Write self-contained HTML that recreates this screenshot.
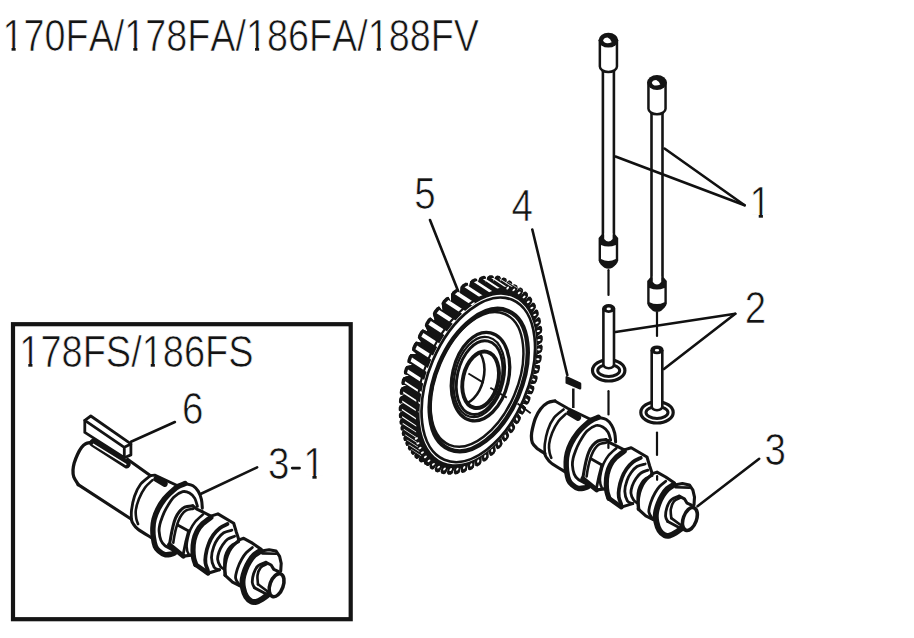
<!DOCTYPE html>
<html><head><meta charset="utf-8"><title>Camshaft parts diagram</title>
<style>
html,body{margin:0;padding:0;background:#fff;}
body{width:914px;height:638px;overflow:hidden;font-family:"Liberation Sans",sans-serif;}
svg{display:block}
</style></head><body>
<svg width="914" height="638" viewBox="0 0 914 638">
<rect width="914" height="638" fill="#fff"/>
<text transform="translate(2.6,50.6) scale(0.868,1)" font-size="43.5" font-family="Liberation Sans, sans-serif" fill="#141414" stroke="#fff" stroke-width="0.7" style="font-kerning:none">170FA/178FA/186FA/188FV</text>
<rect x="4.11" y="46.90" width="7.44" height="4.6" fill="#fff"/>
<rect x="15.66" y="46.90" width="7.55" height="4.6" fill="#fff"/>
<rect x="125.84" y="46.90" width="7.44" height="4.6" fill="#fff"/>
<rect x="137.40" y="46.90" width="7.55" height="4.6" fill="#fff"/>
<rect x="247.57" y="46.90" width="7.44" height="4.6" fill="#fff"/>
<rect x="259.13" y="46.90" width="7.55" height="4.6" fill="#fff"/>
<rect x="369.31" y="46.90" width="7.44" height="4.6" fill="#fff"/>
<rect x="380.86" y="46.90" width="7.55" height="4.6" fill="#fff"/>
<text transform="translate(19.3,366.8) scale(0.873,1)" font-size="43.5" font-family="Liberation Sans, sans-serif" fill="#141414" stroke="#fff" stroke-width="0.7" style="font-kerning:none">178FS/186FS</text>
<rect x="20.82" y="363.10" width="7.48" height="4.6" fill="#fff"/>
<rect x="32.44" y="363.10" width="7.60" height="4.6" fill="#fff"/>
<rect x="143.25" y="363.10" width="7.48" height="4.6" fill="#fff"/>
<rect x="154.87" y="363.10" width="7.60" height="4.6" fill="#fff"/>
<text transform="translate(749.6,218.2) scale(0.885,1)" font-size="43.5" font-family="Liberation Sans, sans-serif" fill="#141414" stroke="#fff" stroke-width="0.7" style="font-kerning:none">1</text>
<rect x="751.14" y="214.50" width="7.58" height="4.6" fill="#fff"/>
<rect x="762.92" y="214.50" width="7.70" height="4.6" fill="#fff"/>
<text transform="translate(744.7,323.0) scale(0.885,1)" font-size="43.5" font-family="Liberation Sans, sans-serif" fill="#141414" stroke="#fff" stroke-width="0.7" style="font-kerning:none">2</text>
<text transform="translate(764.4,465.0) scale(0.885,1)" font-size="43.5" font-family="Liberation Sans, sans-serif" fill="#141414" stroke="#fff" stroke-width="0.7" style="font-kerning:none">3</text>
<text transform="translate(511.6,221.3) scale(0.885,1)" font-size="43.5" font-family="Liberation Sans, sans-serif" fill="#141414" stroke="#fff" stroke-width="0.7" style="font-kerning:none">4</text>
<text transform="translate(414.2,208.6) scale(0.885,1)" font-size="43.5" font-family="Liberation Sans, sans-serif" fill="#141414" stroke="#fff" stroke-width="0.7" style="font-kerning:none">5</text>
<text transform="translate(181.9,423.9) scale(0.885,1)" font-size="43.5" font-family="Liberation Sans, sans-serif" fill="#141414" stroke="#fff" stroke-width="0.7" style="font-kerning:none">6</text>
<text transform="translate(267.9,478.5) scale(0.885,1)" font-size="43.5" font-family="Liberation Sans, sans-serif" fill="#141414" stroke="#fff" stroke-width="0.7" style="font-kerning:none">3</text>
<text transform="translate(303.3,478.8) scale(0.885,1)" font-size="43.5" font-family="Liberation Sans, sans-serif" fill="#141414" stroke="#fff" stroke-width="0.7" style="font-kerning:none">1</text>
<rect x="304.84" y="475.10" width="7.58" height="4.6" fill="#fff"/>
<rect x="316.62" y="475.10" width="7.70" height="4.6" fill="#fff"/>
<line x1="292.2" y1="468.1" x2="299.6" y2="468.1" stroke="#111" stroke-width="2.6" stroke-linecap="round" stroke-linecap="butt"/>
<line x1="744.6" y1="205.2" x2="615.5" y2="156.5" stroke="#111" stroke-width="2.6" stroke-linecap="round" />
<line x1="744.6" y1="205.2" x2="664.5" y2="148.5" stroke="#111" stroke-width="2.6" stroke-linecap="round" />
<line x1="735.3" y1="313.8" x2="615.5" y2="332.0" stroke="#111" stroke-width="2.6" stroke-linecap="round" />
<line x1="735.3" y1="313.8" x2="664.0" y2="369.0" stroke="#111" stroke-width="2.6" stroke-linecap="round" />
<line x1="759.2" y1="458.8" x2="697.5" y2="506.2" stroke="#111" stroke-width="2.6" stroke-linecap="round" />
<line x1="532.3" y1="229.5" x2="567.3" y2="375.0" stroke="#111" stroke-width="2.6" stroke-linecap="round" />
<line x1="430.0" y1="220.0" x2="458.3" y2="291.6" stroke="#111" stroke-width="2.6" stroke-linecap="round" />
<line x1="174.9" y1="422.0" x2="131.0" y2="441.7" stroke="#111" stroke-width="2.6" stroke-linecap="round" />
<rect x="13" y="324.2" width="337.7" height="295" fill="none" stroke="#141414" stroke-width="4.2"/>
<path d="M602.9,68.9 V240.4 M613.9,68.9 V240.4" stroke="#141414" stroke-width="2.6" fill="none"/>
<path d="M599.85,40.199999999999996 V66.4 A8.55,5.6 0 0 0 616.9499999999999,66.4 V40.199999999999996 Z" fill="#fff" stroke="#141414" stroke-width="2.5" stroke-linejoin="round"/>
<ellipse cx="608.4" cy="40.199999999999996" rx="9.8" ry="7.4" fill="#141414"/>
<path d="M603.1999999999999,40.49999999999999 Q603.8,37.8 607.6,37.599999999999994 Q610.6,38.599999999999994 611.6999999999999,42.199999999999996 Q608.9,43.599999999999994 605.8,43.099999999999994 Q603.4,42.4 603.1999999999999,40.49999999999999 Z" fill="#fff"/>
<path d="M601.6,234.4 L598.6,237.9 V260.4 Q599.6,264.4 604.4,267.7 Q608.4,269.6 612.4,267.7 Q617.1999999999999,264.4 618.1999999999999,260.4 V237.9 L615.1999999999999,234.4 Z" fill="#141414"/>
<path d="M601.0,244.9 Q608.4,247.9 615.8,244.9 V259.0 Q608.4,262.8 601.0,259.0 Z" fill="#fff"/>
<path d="M604.1999999999999,233.4 V238.9 Q608.4,243.9 612.6,238.9 V233.4 Z" fill="#fff"/>
<path d="M651.5,111.2 V283.6 M662.5,111.2 V283.6" stroke="#141414" stroke-width="2.6" fill="none"/>
<path d="M648.45,82.5 V108.7 A8.55,5.6 0 0 0 665.55,108.7 V82.5 Z" fill="#fff" stroke="#141414" stroke-width="2.5" stroke-linejoin="round"/>
<ellipse cx="657.0" cy="82.5" rx="9.8" ry="7.4" fill="#141414"/>
<path d="M651.8,82.8 Q652.4,80.1 656.2,79.9 Q659.2,80.9 660.3,84.5 Q657.5,85.9 654.4,85.4 Q652.0,84.7 651.8,82.8 Z" fill="#fff"/>
<path d="M650.2,277.6 L647.2,281.1 V303.6 Q648.2,307.6 653.0,310.90000000000003 Q657.0,312.8 661.0,310.90000000000003 Q665.8,307.6 666.8,303.6 V281.1 L663.8,277.6 Z" fill="#141414"/>
<path d="M649.6,288.1 Q657.0,291.1 664.4,288.1 V302.20000000000005 Q657.0,306.0 649.6,302.20000000000005 Z" fill="#fff"/>
<path d="M652.8,276.6 V282.1 Q657.0,287.1 661.2,282.1 V276.6 Z" fill="#fff"/>
<line x1="608.5" y1="270.2" x2="608.5" y2="295.0" stroke="#111" stroke-width="2.2" stroke-linecap="round" stroke-linecap="butt"/>
<line x1="608.5" y1="391.2" x2="608.5" y2="414.5" stroke="#111" stroke-width="2.2" stroke-linecap="round" stroke-linecap="butt"/>
<line x1="657.0" y1="312.2" x2="657.0" y2="336.0" stroke="#111" stroke-width="2.2" stroke-linecap="round" stroke-linecap="butt"/>
<line x1="657.0" y1="432.6" x2="657.0" y2="455.0" stroke="#111" stroke-width="2.2" stroke-linecap="round" stroke-linecap="butt"/>
<ellipse cx="608.7" cy="370.4" rx="16.2" ry="10.6" fill="#fff" stroke="#141414" stroke-width="3.2"/>
<ellipse cx="608.7" cy="370.5" rx="11.0" ry="5.9" fill="#fff" stroke="#141414" stroke-width="3.0"/>
<path d="M603.4000000000001,308.5 V364.5 Q603.7,367.8 608.7,368.2 Q613.7,367.8 614.0,364.5 V308.5" fill="#fff" stroke="#141414" stroke-width="2.6" stroke-linejoin="round"/>
<ellipse cx="608.7" cy="308.5" rx="5.4" ry="3.2" fill="#141414" stroke="#141414" stroke-width="2.4"/>
<ellipse cx="608.7" cy="308.9" rx="2.2" ry="1.3" fill="#fff"/>
<ellipse cx="657.0" cy="412.4" rx="16.2" ry="10.6" fill="#fff" stroke="#141414" stroke-width="3.2"/>
<ellipse cx="657.0" cy="412.5" rx="11.0" ry="5.9" fill="#fff" stroke="#141414" stroke-width="3.0"/>
<path d="M651.7,349.9 V406.5 Q652.0,409.8 657.0,410.2 Q662.0,409.8 662.3,406.5 V349.9" fill="#fff" stroke="#141414" stroke-width="2.6" stroke-linejoin="round"/>
<ellipse cx="657.0" cy="349.9" rx="5.4" ry="3.2" fill="#141414" stroke="#141414" stroke-width="2.4"/>
<ellipse cx="657.0" cy="350.29999999999995" rx="2.2" ry="1.3" fill="#fff"/>
<polygon points="514.7,387.7 518.5,390.4 518.7,392.1 517.3,395.5 515.9,396.5 511.3,395.6 510.6,397.1 514.0,400.6 514.1,402.4 512.5,405.6 511.1,406.5 506.8,404.7 506.0,406.2 509.0,410.4 508.9,412.3 507.1,415.4 505.6,416.0 501.7,413.4 500.9,414.8 503.3,419.7 503.1,421.7 501.1,424.6 499.7,425.0 496.2,421.6 495.3,422.9 497.2,428.4 496.8,430.5 494.7,433.1 493.3,433.3 490.3,429.2 489.3,430.3 490.7,436.5 490.1,438.5 487.9,440.9 486.6,440.9 484.1,436.0 483.1,437.0 483.8,443.6 483.1,445.7 480.8,447.8 479.6,447.5 477.7,442.0 476.6,442.9 476.8,449.9 475.9,451.9 473.6,453.7 472.4,453.2 471.1,447.1 470.0,447.9 469.5,455.2 468.6,457.2 466.2,458.6 465.2,457.9 464.4,451.3 463.3,451.9 462.3,459.5 461.2,461.3 458.8,462.4 457.9,461.5 457.7,454.5 456.7,454.9 455.0,462.6 453.9,464.3 451.5,465.1 450.8,463.9 451.2,456.6 450.1,456.9 447.9,464.6 446.7,466.2 444.4,466.5 443.8,465.2 444.8,457.7 443.8,457.7 441.0,465.4 439.7,466.8 437.6,466.8 437.1,465.3 438.6,457.6 437.7,457.5 434.5,465.0 433.1,466.3 431.1,465.9 430.7,464.2 432.8,456.5 431.9,456.2 428.3,463.5 426.9,464.6 425.0,463.8 424.8,462.0 427.5,454.3 426.7,453.9 422.7,460.8 421.3,461.8 419.7,460.7 419.7,458.9 422.9,451.4 422.2,450.8 417.9,457.4 416.6,458.2 415.2,456.9 415.4,455.1 419.1,447.9 418.5,447.3 413.9,453.5 412.7,454.1 411.6,452.8 411.9,450.9 415.9,444.0 415.5,443.3 410.7,449.2 409.5,449.7 408.6,448.3 409.0,446.5 413.3,439.9 413.0,439.2 408.0,444.6 406.8,445.1 406.1,443.5 406.7,441.8 411.2,435.5 410.9,434.8 405.9,439.9 404.7,440.2 404.1,438.6 404.8,436.9 409.5,431.0 409.2,430.3 404.1,434.9 402.9,435.1 402.5,433.4 403.2,431.7 408.1,426.2 407.9,425.4 402.7,429.5 401.5,429.6 401.2,427.8 402.0,426.2 407.0,421.1 406.9,420.2 401.6,423.8 400.5,423.7 400.2,421.7 401.1,420.1 406.2,415.4 406.1,414.5 400.8,417.5 399.8,417.3 399.6,415.0 400.6,413.4 405.8,409.2 405.8,408.1 400.5,410.5 399.5,410.0 399.5,407.6 400.5,405.9 405.8,402.2 405.8,401.0 400.6,402.7 399.7,402.0 399.9,399.2 400.9,397.5 406.3,394.4 406.4,393.1 401.3,393.9 400.5,392.9 400.9,389.8 402.1,388.2 407.4,385.7 407.7,384.3 402.8,384.2 402.1,382.9 402.8,379.5 404.1,377.9 409.3,376.2 409.7,374.6 405.1,373.5 404.6,372.0 405.7,368.3 407.0,366.7 412.2,365.8 412.7,364.1 408.5,362.0 408.2,360.2 409.6,356.3 411.1,354.8 416.0,354.9 416.8,353.1 413.1,350.0 413.0,347.9 414.8,343.9 416.4,342.6 421.0,343.6 421.9,341.7 418.8,337.6 419.0,335.4 421.2,331.4 422.9,330.3 427.1,332.3 428.1,330.5 425.8,325.5 426.2,323.1 428.7,319.3 430.4,318.5 434.1,321.5 435.4,319.8 433.7,313.9 434.4,311.5 437.3,308.0 438.9,307.5 442.0,311.6 443.4,310.1 442.5,303.5 443.5,301.1 446.5,298.1 448.1,297.9 450.5,302.9 451.9,301.7 451.9,294.5 453.0,292.2 456.1,289.8 457.6,290.0 459.3,295.8 460.7,294.9 461.4,287.3 462.7,285.2 465.8,283.4 467.1,284.0 468.0,290.5 469.4,289.9 470.9,282.1 472.3,280.2 475.2,279.0 476.3,279.9 476.4,287.0 477.7,286.6 479.9,278.9 481.3,277.2 484.1,276.6 485.0,277.8 484.3,285.3 485.5,285.2 488.2,277.5 489.7,276.0 492.2,276.0 492.8,277.4 491.4,285.1 492.5,285.2 495.7,277.7 497.2,276.4 499.4,276.9 499.8,278.5 497.7,286.3 498.6,286.6 502.3,279.3 503.7,278.2 505.6,279.0 505.8,280.8 503.2,288.5 504.0,288.9 508.1,282.0 509.5,281.1 511.2,282.3 511.2,284.2 508.1,291.7 508.8,292.3 513.2,285.8 514.7,285.2 516.2,286.7 516.1,288.7 512.4,295.9 513.1,296.7 517.8,290.7 519.2,290.3 520.5,292.2 520.3,294.2 516.2,301.1 516.8,302.0 521.8,296.7 523.1,296.4 524.2,298.6 523.8,300.7 519.4,307.2 519.8,308.2 525.0,303.5 526.3,303.5 527.1,306.0 526.5,308.0 521.8,314.1 522.2,315.2 527.4,311.2 528.7,311.5 529.3,314.2 528.5,316.2 523.6,321.7 523.8,322.9 529.1,319.7 530.3,320.2 530.6,323.1 529.7,325.1 524.6,329.9 524.7,331.2 530.0,328.8 531.0,329.5 531.1,332.6 530.1,334.5 524.9,338.6 524.8,340.1 530.1,338.5 531.0,339.4 530.8,342.6 529.7,344.5 524.4,347.8 524.2,349.3 529.3,348.5 530.1,349.6 529.7,353.0 528.5,354.7 523.2,357.2 522.9,358.8 527.8,358.9 528.4,360.2 527.7,363.6 526.5,365.2 521.2,366.8 520.8,368.4 525.4,369.4 526.0,370.9 525.0,374.3 523.7,375.7 518.6,376.5 518.1,378.1 522.3,379.9 522.7,381.6 521.5,385.0 520.1,386.2 515.3,386.2" fill="#141414" stroke="#141414" stroke-width="1.6" stroke-linejoin="round"/>
<polygon points="514.7,387.7 518.8,390.5 516.2,396.6 511.3,395.6 522.2,402.7 527.1,403.7 529.7,397.6 525.6,394.8" fill="#141414" stroke="#141414" stroke-width="1.6" stroke-linejoin="round"/>
<polygon points="510.6,397.1 514.3,400.7 511.3,406.7 506.8,404.7 517.7,411.8 522.2,413.8 525.2,407.8 521.5,404.2" fill="#141414" stroke="#141414" stroke-width="1.6" stroke-linejoin="round"/>
<polygon points="506.0,406.2 509.2,410.6 505.8,416.3 501.7,413.4 512.6,420.5 516.7,423.4 520.1,417.7 516.9,413.3" fill="#141414" stroke="#141414" stroke-width="1.6" stroke-linejoin="round"/>
<polygon points="500.9,414.8 503.5,420.0 499.9,425.3 496.2,421.6 507.1,428.7 510.8,432.4 514.4,427.1 511.8,421.9" fill="#141414" stroke="#141414" stroke-width="1.6" stroke-linejoin="round"/>
<polygon points="495.3,422.9 497.4,428.7 493.5,433.7 490.3,429.2 501.2,436.3 504.4,440.8 508.3,435.8 506.2,430.0" fill="#141414" stroke="#141414" stroke-width="1.6" stroke-linejoin="round"/>
<polygon points="489.3,430.3 490.8,436.8 486.7,441.2 484.1,436.0 495.0,443.1 497.6,448.3 501.7,443.9 500.2,437.4" fill="#141414" stroke="#141414" stroke-width="1.6" stroke-linejoin="round"/>
<polygon points="483.1,437.0 483.9,444.0 479.7,447.9 477.7,442.0 488.6,449.1 490.6,455.0 494.8,451.1 494.0,444.1" fill="#141414" stroke="#141414" stroke-width="1.6" stroke-linejoin="round"/>
<polygon points="476.6,442.9 476.8,450.3 472.5,453.6 471.1,447.1 482.0,454.2 483.4,460.7 487.7,457.4 487.5,450.0" fill="#141414" stroke="#141414" stroke-width="1.6" stroke-linejoin="round"/>
<polygon points="470.0,447.9 469.6,455.6 465.2,458.3 464.4,451.3 475.3,458.4 476.1,465.4 480.5,462.7 480.9,455.0" fill="#141414" stroke="#141414" stroke-width="1.6" stroke-linejoin="round"/>
<polygon points="463.3,451.9 462.3,459.9 457.9,461.9 457.7,454.5 468.6,461.6 468.8,469.0 473.2,467.0 474.2,459.0" fill="#141414" stroke="#141414" stroke-width="1.6" stroke-linejoin="round"/>
<polygon points="456.7,454.9 455.0,463.1 450.7,464.4 451.2,456.6 462.1,463.7 461.6,471.5 465.9,470.2 467.6,462.0" fill="#141414" stroke="#141414" stroke-width="1.6" stroke-linejoin="round"/>
<polygon points="450.1,456.9 447.8,465.1 443.7,465.7 444.8,457.7 455.7,464.8 454.6,472.8 458.7,472.2 461.0,464.0" fill="#141414" stroke="#141414" stroke-width="1.6" stroke-linejoin="round"/>
<polygon points="443.8,457.7 440.9,465.9 436.9,465.8 438.6,457.6 449.5,464.7 447.8,472.9 451.8,473.0 454.7,464.8" fill="#141414" stroke="#141414" stroke-width="1.6" stroke-linejoin="round"/>
<polygon points="437.7,457.5 434.3,465.5 430.5,464.7 432.8,456.5 443.7,463.6 441.4,471.8 445.2,472.6 448.6,464.6" fill="#141414" stroke="#141414" stroke-width="1.6" stroke-linejoin="round"/>
<polygon points="431.9,456.2 428.1,464.0 424.6,462.5 427.5,454.3 438.4,461.4 435.5,469.6 439.0,471.1 442.8,463.3" fill="#141414" stroke="#141414" stroke-width="1.6" stroke-linejoin="round"/>
<polygon points="426.7,453.9 422.4,461.3 419.5,459.3 422.9,451.4 433.8,458.5 430.4,466.4 433.3,468.4 437.6,461.0" fill="#141414" stroke="#141414" stroke-width="1.6" stroke-linejoin="round"/>
<polygon points="422.2,450.8 417.7,457.9 415.2,455.5 419.1,447.9 430.0,455.0 426.1,462.6 428.6,465.0 433.1,457.9" fill="#141414" stroke="#141414" stroke-width="1.6" stroke-linejoin="round"/>
<polygon points="418.5,447.3 413.7,453.9 411.6,451.3 415.9,444.0 426.8,451.1 422.5,458.4 424.6,461.0 429.4,454.4" fill="#141414" stroke="#141414" stroke-width="1.6" stroke-linejoin="round"/>
<polygon points="415.5,443.3 410.4,449.6 408.7,446.9 413.3,439.9 424.2,447.0 419.6,454.0 421.3,456.7 426.4,450.4" fill="#141414" stroke="#141414" stroke-width="1.6" stroke-linejoin="round"/>
<polygon points="413.0,439.2 407.7,445.0 406.4,442.1 411.2,435.5 422.1,442.6 417.3,449.2 418.6,452.1 423.9,446.3" fill="#141414" stroke="#141414" stroke-width="1.6" stroke-linejoin="round"/>
<polygon points="410.9,434.8 405.6,440.2 404.4,437.2 409.5,431.0 420.4,438.1 415.3,444.3 416.5,447.3 421.8,441.9" fill="#141414" stroke="#141414" stroke-width="1.6" stroke-linejoin="round"/>
<polygon points="409.2,430.3 403.8,435.2 402.9,432.0 408.1,426.2 419.0,433.3 413.8,439.1 414.7,442.3 420.1,437.4" fill="#141414" stroke="#141414" stroke-width="1.6" stroke-linejoin="round"/>
<polygon points="407.9,425.4 402.4,429.8 401.7,426.4 407.0,421.1 417.9,428.2 412.6,433.5 413.3,436.9 418.8,432.5" fill="#141414" stroke="#141414" stroke-width="1.6" stroke-linejoin="round"/>
<polygon points="406.9,420.2 401.3,424.1 400.8,420.3 406.2,415.4 417.1,422.5 411.7,427.4 412.2,431.2 417.8,427.3" fill="#141414" stroke="#141414" stroke-width="1.6" stroke-linejoin="round"/>
<polygon points="406.1,414.5 400.5,417.7 400.2,413.6 405.8,409.2 416.7,416.3 411.1,420.7 411.4,424.8 417.0,421.6" fill="#141414" stroke="#141414" stroke-width="1.6" stroke-linejoin="round"/>
<polygon points="405.8,408.1 400.2,410.7 400.2,406.1 405.8,402.2 416.7,409.3 411.1,413.2 411.1,417.8 416.7,415.2" fill="#141414" stroke="#141414" stroke-width="1.6" stroke-linejoin="round"/>
<polygon points="405.8,401.0 400.3,402.8 400.6,397.7 406.3,394.4 417.2,401.5 411.5,404.8 411.2,409.9 416.7,408.1" fill="#141414" stroke="#141414" stroke-width="1.6" stroke-linejoin="round"/>
<polygon points="406.4,393.1 401.0,394.0 401.8,388.3 407.4,385.7 418.3,392.8 412.7,395.4 411.9,401.1 417.3,400.2" fill="#141414" stroke="#141414" stroke-width="1.6" stroke-linejoin="round"/>
<polygon points="407.7,384.3 402.5,384.3 403.8,377.9 409.3,376.2 420.2,383.3 414.7,385.0 413.4,391.4 418.6,391.4" fill="#141414" stroke="#141414" stroke-width="1.6" stroke-linejoin="round"/>
<polygon points="409.7,374.6 404.8,373.5 406.7,366.7 412.2,365.8 423.1,372.9 417.6,373.8 415.7,380.6 420.6,381.7" fill="#141414" stroke="#141414" stroke-width="1.6" stroke-linejoin="round"/>
<polygon points="412.7,364.1 408.2,362.0 410.8,354.8 416.0,354.9 426.9,362.0 421.7,361.9 419.1,369.1 423.6,371.2" fill="#141414" stroke="#141414" stroke-width="1.6" stroke-linejoin="round"/>
<polygon points="416.8,353.1 412.8,349.9 416.1,342.4 421.0,343.6 431.9,350.7 427.0,349.5 423.7,357.0 427.7,360.2" fill="#141414" stroke="#141414" stroke-width="1.6" stroke-linejoin="round"/>
<polygon points="421.9,341.7 418.6,337.5 422.6,330.1 427.1,332.3 438.0,339.4 433.5,337.2 429.5,344.6 432.8,348.8" fill="#141414" stroke="#141414" stroke-width="1.6" stroke-linejoin="round"/>
<polygon points="428.1,330.5 425.6,325.3 430.2,318.2 434.1,321.5 445.0,328.6 441.1,325.3 436.5,332.4 439.0,337.6" fill="#141414" stroke="#141414" stroke-width="1.6" stroke-linejoin="round"/>
<polygon points="435.4,319.8 433.6,313.7 438.8,307.2 442.0,311.6 452.9,318.7 449.7,314.3 444.5,320.8 446.3,326.9" fill="#141414" stroke="#141414" stroke-width="1.6" stroke-linejoin="round"/>
<polygon points="443.4,310.1 442.4,303.1 448.0,297.5 450.5,302.9 461.4,310.0 458.9,304.6 453.3,310.2 454.3,317.2" fill="#141414" stroke="#141414" stroke-width="1.6" stroke-linejoin="round"/>
<polygon points="451.9,301.7 451.8,294.1 457.5,289.6 459.3,295.8 470.2,302.9 468.4,296.7 462.7,301.2 462.8,308.8" fill="#141414" stroke="#141414" stroke-width="1.6" stroke-linejoin="round"/>
<polygon points="460.7,294.9 461.4,286.9 467.1,283.5 468.0,290.5 478.9,297.6 478.0,290.6 472.3,294.0 471.6,302.0" fill="#141414" stroke="#141414" stroke-width="1.6" stroke-linejoin="round"/>
<polygon points="469.4,289.9 470.9,281.7 476.4,279.5 476.4,287.0 487.3,294.1 487.3,286.6 481.8,288.8 480.3,297.0" fill="#141414" stroke="#141414" stroke-width="1.6" stroke-linejoin="round"/>
<polygon points="477.7,286.6 479.9,278.4 485.1,277.3 484.3,285.3 495.2,292.4 496.0,284.4 490.8,285.5 488.6,293.7" fill="#141414" stroke="#141414" stroke-width="1.6" stroke-linejoin="round"/>
<polygon points="485.5,285.2 488.3,277.0 493.0,277.0 491.4,285.1 502.3,292.2 503.9,284.1 499.2,284.1 496.4,292.3" fill="#141414" stroke="#141414" stroke-width="1.6" stroke-linejoin="round"/>
<polygon points="492.5,285.2 495.9,277.2 500.0,278.1 497.7,286.3 508.6,293.4 510.9,285.2 506.8,284.3 503.4,292.3" fill="#141414" stroke="#141414" stroke-width="1.6" stroke-linejoin="round"/>
<polygon points="498.6,286.6 502.5,278.8 506.0,280.3 503.2,288.5 514.1,295.6 516.9,287.4 513.4,285.9 509.5,293.7" fill="#141414" stroke="#141414" stroke-width="1.6" stroke-linejoin="round"/>
<polygon points="504.0,288.9 508.3,281.6 511.5,283.7 508.1,291.7 519.0,298.8 522.4,290.8 519.2,288.7 514.9,296.0" fill="#141414" stroke="#141414" stroke-width="1.6" stroke-linejoin="round"/>
<polygon points="508.8,292.3 513.5,285.4 516.3,288.2 512.4,295.9 523.3,303.0 527.2,295.3 524.4,292.5 519.7,299.4" fill="#141414" stroke="#141414" stroke-width="1.6" stroke-linejoin="round"/>
<polygon points="513.1,296.7 518.1,290.3 520.5,293.8 516.2,301.1 527.1,308.2 531.4,300.9 529.0,297.4 524.0,303.8" fill="#141414" stroke="#141414" stroke-width="1.6" stroke-linejoin="round"/>
<polygon points="516.8,302.0 522.0,296.3 524.1,300.3 519.4,307.2 530.3,314.3 535.0,307.4 532.9,303.4 527.7,309.1" fill="#141414" stroke="#141414" stroke-width="1.6" stroke-linejoin="round"/>
<polygon points="519.8,308.2 525.3,303.2 526.9,307.7 521.8,314.1 532.7,321.2 537.8,314.8 536.2,310.3 530.7,315.3" fill="#141414" stroke="#141414" stroke-width="1.6" stroke-linejoin="round"/>
<polygon points="522.2,315.2 527.8,310.9 528.9,315.9 523.6,321.7 534.5,328.8 539.8,323.0 538.7,318.0 533.1,322.3" fill="#141414" stroke="#141414" stroke-width="1.6" stroke-linejoin="round"/>
<polygon points="523.8,322.9 529.4,319.4 530.1,324.9 524.6,329.9 535.5,337.0 541.0,332.0 540.3,326.5 534.7,330.0" fill="#141414" stroke="#141414" stroke-width="1.6" stroke-linejoin="round"/>
<polygon points="524.7,331.2 530.3,328.6 530.5,334.4 524.9,338.6 535.8,345.7 541.4,341.5 541.2,335.7 535.6,338.3" fill="#141414" stroke="#141414" stroke-width="1.6" stroke-linejoin="round"/>
<polygon points="524.8,340.1 530.4,338.3 530.0,344.3 524.4,347.8 535.3,354.9 540.9,351.4 541.3,345.4 535.7,347.2" fill="#141414" stroke="#141414" stroke-width="1.6" stroke-linejoin="round"/>
<polygon points="524.2,349.3 529.6,348.4 528.8,354.6 523.2,357.2 534.1,364.3 539.7,361.7 540.5,355.5 535.1,356.4" fill="#141414" stroke="#141414" stroke-width="1.6" stroke-linejoin="round"/>
<polygon points="522.9,358.8 528.1,358.8 526.8,365.2 521.2,366.8 532.1,373.9 537.7,372.3 539.0,365.9 533.8,365.9" fill="#141414" stroke="#141414" stroke-width="1.6" stroke-linejoin="round"/>
<polygon points="520.8,368.4 525.7,369.4 524.0,375.7 518.6,376.5 529.5,383.6 534.9,382.8 536.6,376.5 531.7,375.5" fill="#141414" stroke="#141414" stroke-width="1.6" stroke-linejoin="round"/>
<polygon points="518.1,378.1 522.6,380.0 520.4,386.3 515.3,386.2 526.2,393.3 531.3,393.4 533.5,387.1 529.0,385.2" fill="#141414" stroke="#141414" stroke-width="1.6" stroke-linejoin="round"/>
<polygon points="525.6,394.8 529.4,397.5 529.6,399.2 528.2,402.6 526.8,403.6 522.2,402.7 521.5,404.2 524.9,407.7 525.0,409.5 523.4,412.7 522.0,413.6 517.7,411.8 516.9,413.3 519.9,417.5 519.8,419.4 518.0,422.5 516.5,423.1 512.6,420.5 511.8,421.9 514.2,426.8 514.0,428.8 512.0,431.7 510.6,432.1 507.1,428.7 506.2,430.0 508.1,435.5 507.7,437.6 505.6,440.2 504.2,440.4 501.2,436.3 500.2,437.4 501.6,443.6 501.0,445.6 498.8,448.0 497.5,448.0 495.0,443.1 494.0,444.1 494.7,450.7 494.0,452.8 491.7,454.9 490.5,454.6 488.6,449.1 487.5,450.0 487.7,457.0 486.8,459.0 484.5,460.8 483.3,460.3 482.0,454.2 480.9,455.0 480.4,462.3 479.5,464.3 477.1,465.7 476.1,465.0 475.3,458.4 474.2,459.0 473.2,466.6 472.1,468.4 469.7,469.5 468.8,468.6 468.6,461.6 467.6,462.0 465.9,469.7 464.8,471.4 462.4,472.2 461.7,471.0 462.1,463.7 461.0,464.0 458.8,471.7 457.6,473.3 455.3,473.6 454.7,472.3 455.7,464.8 454.7,464.8 451.9,472.5 450.6,473.9 448.5,473.9 448.0,472.4 449.5,464.7 448.6,464.6 445.4,472.1 444.0,473.4 442.0,473.0 441.6,471.3 443.7,463.6 442.8,463.3 439.2,470.6 437.8,471.7 435.9,470.9 435.7,469.1 438.4,461.4 437.6,461.0 433.6,467.9 432.2,468.9 430.6,467.8 430.6,466.0 433.8,458.5 433.1,457.9 428.8,464.5 427.5,465.3 426.1,464.0 426.3,462.2 430.0,455.0 429.4,454.4 424.8,460.6 423.6,461.2 422.5,459.9 422.8,458.0 426.8,451.1 426.4,450.4 421.6,456.3 420.4,456.8 419.5,455.4 419.9,453.6 424.2,447.0 423.9,446.3 418.9,451.7 417.7,452.2 417.0,450.6 417.6,448.9 422.1,442.6 421.8,441.9 416.8,447.0 415.6,447.3 415.0,445.7 415.7,444.0 420.4,438.1 420.1,437.4 415.0,442.0 413.8,442.2 413.4,440.5 414.1,438.8 419.0,433.3 418.8,432.5 413.6,436.6 412.4,436.7 412.1,434.9 412.9,433.3 417.9,428.2 417.8,427.3 412.5,430.9 411.4,430.8 411.1,428.8 412.0,427.2 417.1,422.5 417.0,421.6 411.7,424.6 410.7,424.4 410.5,422.1 411.5,420.5 416.7,416.3 416.7,415.2 411.4,417.6 410.4,417.1 410.4,414.7 411.4,413.0 416.7,409.3 416.7,408.1 411.5,409.8 410.6,409.1 410.8,406.3 411.8,404.6 417.2,401.5 417.3,400.2 412.2,401.0 411.4,400.0 411.8,396.9 413.0,395.3 418.3,392.8 418.6,391.4 413.7,391.3 413.0,390.0 413.7,386.6 415.0,385.0 420.2,383.3 420.6,381.7 416.0,380.6 415.5,379.1 416.6,375.4 417.9,373.8 423.1,372.9 423.6,371.2 419.4,369.1 419.1,367.3 420.5,363.4 422.0,361.9 426.9,362.0 427.7,360.2 424.0,357.1 423.9,355.0 425.7,351.0 427.3,349.7 431.9,350.7 432.8,348.8 429.7,344.7 429.9,342.5 432.1,338.5 433.8,337.4 438.0,339.4 439.0,337.6 436.7,332.6 437.1,330.2 439.6,326.4 441.3,325.6 445.0,328.6 446.3,326.9 444.6,321.0 445.3,318.6 448.2,315.1 449.8,314.6 452.9,318.7 454.3,317.2 453.4,310.6 454.4,308.2 457.4,305.2 459.0,305.0 461.4,310.0 462.8,308.8 462.8,301.6 463.9,299.3 467.0,296.9 468.5,297.1 470.2,302.9 471.6,302.0 472.3,294.4 473.6,292.3 476.7,290.5 478.0,291.1 478.9,297.6 480.3,297.0 481.8,289.2 483.2,287.3 486.1,286.1 487.2,287.0 487.3,294.1 488.6,293.7 490.8,286.0 492.2,284.3 495.0,283.7 495.9,284.9 495.2,292.4 496.4,292.3 499.1,284.6 500.6,283.1 503.1,283.1 503.7,284.5 502.3,292.2 503.4,292.3 506.6,284.8 508.1,283.5 510.3,284.0 510.7,285.6 508.6,293.4 509.5,293.7 513.2,286.4 514.6,285.3 516.5,286.1 516.7,287.9 514.1,295.6 514.9,296.0 519.0,289.1 520.4,288.2 522.1,289.4 522.1,291.3 519.0,298.8 519.7,299.4 524.1,292.9 525.6,292.3 527.1,293.8 527.0,295.8 523.3,303.0 524.0,303.8 528.7,297.8 530.1,297.4 531.4,299.3 531.2,301.3 527.1,308.2 527.7,309.1 532.7,303.8 534.0,303.5 535.1,305.7 534.7,307.8 530.3,314.3 530.7,315.3 535.9,310.6 537.2,310.6 538.0,313.1 537.4,315.1 532.7,321.2 533.1,322.3 538.3,318.3 539.6,318.6 540.2,321.3 539.4,323.3 534.5,328.8 534.7,330.0 540.0,326.8 541.2,327.3 541.5,330.2 540.6,332.2 535.5,337.0 535.6,338.3 540.9,335.9 541.9,336.6 542.0,339.7 541.0,341.6 535.8,345.7 535.7,347.2 541.0,345.6 541.9,346.5 541.7,349.7 540.6,351.6 535.3,354.9 535.1,356.4 540.2,355.6 541.0,356.7 540.6,360.1 539.4,361.8 534.1,364.3 533.8,365.9 538.7,366.0 539.3,367.3 538.6,370.7 537.4,372.3 532.1,373.9 531.7,375.5 536.3,376.5 536.9,378.0 535.9,381.4 534.6,382.8 529.5,383.6 529.0,385.2 533.2,387.0 533.6,388.7 532.4,392.1 531.0,393.3 526.2,393.3" fill="#141414" stroke="#141414" stroke-width="1.6" stroke-linejoin="round"/>
<ellipse cx="476.2" cy="378.5" rx="51.86" ry="91.22" transform="rotate(23 476.2 378.5)" fill="#141414"/>
<polygon points="411.6,449.8 411.1,448.9 420.9,455.3 421.4,456.2" fill="#fff" stroke="none" stroke-width="0" stroke-linejoin="round"/>
<polygon points="409.0,445.2 408.6,444.3 419.1,451.1 419.5,452.0" fill="#fff" stroke="none" stroke-width="0" stroke-linejoin="round"/>
<polygon points="406.9,440.3 406.6,439.4 417.7,446.6 418.1,447.6" fill="#fff" stroke="none" stroke-width="0" stroke-linejoin="round"/>
<polygon points="405.2,435.2 404.9,434.2 416.8,441.9 417.1,443.0" fill="#fff" stroke="none" stroke-width="0" stroke-linejoin="round"/>
<polygon points="403.9,429.8 403.6,428.7 416.2,436.9 416.4,438.0" fill="#fff" stroke="none" stroke-width="0" stroke-linejoin="round"/>
<polygon points="402.8,423.9 402.7,422.7 416.0,431.4 416.2,432.6" fill="#fff" stroke="none" stroke-width="0" stroke-linejoin="round"/>
<polygon points="402.2,417.5 402.1,416.1 416.3,425.4 416.4,426.7" fill="#fff" stroke="none" stroke-width="0" stroke-linejoin="round"/>
<polygon points="401.9,410.3 401.9,408.8 417.1,418.7 417.1,420.2" fill="#fff" stroke="none" stroke-width="0" stroke-linejoin="round"/>
<polygon points="402.1,402.2 402.2,400.6 418.5,411.2 418.4,412.8" fill="#fff" stroke="none" stroke-width="0" stroke-linejoin="round"/>
<polygon points="403.0,393.2 403.3,391.4 420.6,402.7 420.3,404.5" fill="#fff" stroke="none" stroke-width="0" stroke-linejoin="round"/>
<polygon points="404.6,383.2 405.1,381.2 422.4,392.5 422.0,394.5" fill="#fff" stroke="none" stroke-width="0" stroke-linejoin="round"/>
<polygon points="407.0,373.0 408.0,369.5 425.4,380.8 424.4,384.3" fill="#fff" stroke="none" stroke-width="0" stroke-linejoin="round"/>
<polygon points="410.6,361.4 412.0,357.6 429.3,368.9 427.9,372.7" fill="#fff" stroke="none" stroke-width="0" stroke-linejoin="round"/>
<polygon points="415.4,349.2 417.1,345.4 434.4,356.6 432.7,360.5" fill="#fff" stroke="none" stroke-width="0" stroke-linejoin="round"/>
<polygon points="421.3,336.8 423.4,333.0 440.7,344.3 438.6,348.1" fill="#fff" stroke="none" stroke-width="0" stroke-linejoin="round"/>
<polygon points="428.4,324.7 430.9,321.0 448.2,332.3 445.8,336.0" fill="#fff" stroke="none" stroke-width="0" stroke-linejoin="round"/>
<polygon points="436.6,313.2 439.3,309.9 456.6,321.2 453.9,324.5" fill="#fff" stroke="none" stroke-width="0" stroke-linejoin="round"/>
<polygon points="445.5,302.9 448.4,300.0 465.7,311.3 462.8,314.2" fill="#fff" stroke="none" stroke-width="0" stroke-linejoin="round"/>
<polygon points="454.9,294.2 457.9,291.8 475.2,303.1 472.2,305.5" fill="#fff" stroke="none" stroke-width="0" stroke-linejoin="round"/>
<polygon points="464.5,287.2 467.5,285.5 483.9,296.2 480.9,297.9" fill="#fff" stroke="none" stroke-width="0" stroke-linejoin="round"/>
<polygon points="473.9,282.3 476.8,281.1 492.1,291.1 489.2,292.2" fill="#fff" stroke="none" stroke-width="0" stroke-linejoin="round"/>
<polygon points="482.9,279.3 485.6,278.7 499.8,288.0 497.1,288.5" fill="#fff" stroke="none" stroke-width="0" stroke-linejoin="round"/>
<polygon points="491.2,278.1 493.6,278.1 506.8,286.7 504.4,286.7" fill="#fff" stroke="none" stroke-width="0" stroke-linejoin="round"/>
<polygon points="498.6,278.6 500.7,279.0 513.0,287.0 510.9,286.6" fill="#fff" stroke="none" stroke-width="0" stroke-linejoin="round"/>
<polygon points="505.1,280.3 506.9,281.1 518.4,288.6 516.5,287.8" fill="#fff" stroke="none" stroke-width="0" stroke-linejoin="round"/>
<polygon points="510.8,283.2 512.4,284.4 523.0,291.3 521.4,290.1" fill="#fff" stroke="none" stroke-width="0" stroke-linejoin="round"/>
<ellipse cx="476.20" cy="378.50" rx="51.63" ry="90.82" transform="rotate(23 476.20 378.50)" fill="none" stroke="#141414" stroke-width="2.2" />
<ellipse cx="526.6" cy="399.9" rx="1.7" ry="0.95" transform="rotate(46 526.6 399.9)" fill="#fff"/>
<ellipse cx="522.0" cy="409.7" rx="1.7" ry="0.95" transform="rotate(57 522.0 409.7)" fill="#fff"/>
<ellipse cx="516.9" cy="419.1" rx="1.7" ry="0.95" transform="rotate(68 516.9 419.1)" fill="#fff"/>
<ellipse cx="511.3" cy="427.9" rx="1.7" ry="0.95" transform="rotate(78 511.3 427.9)" fill="#fff"/>
<ellipse cx="505.3" cy="436.2" rx="1.7" ry="0.95" transform="rotate(86 505.3 436.2)" fill="#fff"/>
<ellipse cx="498.8" cy="443.7" rx="1.7" ry="0.95" transform="rotate(94 498.8 443.7)" fill="#fff"/>
<ellipse cx="492.1" cy="450.5" rx="1.7" ry="0.95" transform="rotate(101 492.1 450.5)" fill="#fff"/>
<ellipse cx="485.2" cy="456.3" rx="1.7" ry="0.95" transform="rotate(106 485.2 456.3)" fill="#fff"/>
<ellipse cx="478.2" cy="461.1" rx="1.7" ry="0.95" transform="rotate(112 478.2 461.1)" fill="#fff"/>
<ellipse cx="471.2" cy="464.9" rx="1.7" ry="0.95" transform="rotate(116 471.2 464.9)" fill="#fff"/>
<ellipse cx="464.2" cy="467.6" rx="1.7" ry="0.95" transform="rotate(121 464.2 467.6)" fill="#fff"/>
<ellipse cx="457.3" cy="469.2" rx="1.7" ry="0.95" transform="rotate(125 457.3 469.2)" fill="#fff"/>
<ellipse cx="450.7" cy="469.6" rx="1.7" ry="0.95" transform="rotate(129 450.7 469.6)" fill="#fff"/>
<ellipse cx="444.5" cy="468.9" rx="1.7" ry="0.95" transform="rotate(132 444.5 468.9)" fill="#fff"/>
<ellipse cx="438.6" cy="467.1" rx="1.7" ry="0.95" transform="rotate(136 438.6 467.1)" fill="#fff"/>
<ellipse cx="433.4" cy="464.3" rx="1.7" ry="0.95" transform="rotate(140 433.4 464.3)" fill="#fff"/>
<ellipse cx="429.0" cy="460.8" rx="1.7" ry="0.95" transform="rotate(143 429.0 460.8)" fill="#fff"/>
<ellipse cx="425.4" cy="456.9" rx="1.7" ry="0.95" transform="rotate(146 425.4 456.9)" fill="#fff"/>
<ellipse cx="422.4" cy="452.6" rx="1.7" ry="0.95" transform="rotate(149 422.4 452.6)" fill="#fff"/>
<ellipse cx="420.0" cy="448.1" rx="1.7" ry="0.95" transform="rotate(152 420.0 448.1)" fill="#fff"/>
<ellipse cx="418.0" cy="443.4" rx="1.7" ry="0.95" transform="rotate(155 418.0 443.4)" fill="#fff"/>
<ellipse cx="416.4" cy="438.5" rx="1.7" ry="0.95" transform="rotate(158 416.4 438.5)" fill="#fff"/>
<ellipse cx="507.7" cy="288.0" rx="1.7" ry="0.95" transform="rotate(-48 507.7 288.0)" fill="#fff"/>
<ellipse cx="513.8" cy="289.9" rx="1.7" ry="0.95" transform="rotate(-44 513.8 289.9)" fill="#fff"/>
<ellipse cx="519.2" cy="292.8" rx="1.7" ry="0.95" transform="rotate(-40 519.2 292.8)" fill="#fff"/>
<ellipse cx="524.1" cy="296.9" rx="1.7" ry="0.95" transform="rotate(-37 524.1 296.9)" fill="#fff"/>
<ellipse cx="528.3" cy="301.9" rx="1.7" ry="0.95" transform="rotate(-33 528.3 301.9)" fill="#fff"/>
<ellipse cx="531.9" cy="307.9" rx="1.7" ry="0.95" transform="rotate(-29 531.9 307.9)" fill="#fff"/>
<ellipse cx="534.8" cy="314.8" rx="1.7" ry="0.95" transform="rotate(-24 534.8 314.8)" fill="#fff"/>
<ellipse cx="537.0" cy="322.6" rx="1.7" ry="0.95" transform="rotate(-20 537.0 322.6)" fill="#fff"/>
<ellipse cx="538.4" cy="331.0" rx="1.7" ry="0.95" transform="rotate(-14 538.4 331.0)" fill="#fff"/>
<ellipse cx="539.0" cy="340.0" rx="1.7" ry="0.95" transform="rotate(-9 539.0 340.0)" fill="#fff"/>
<ellipse cx="538.9" cy="349.5" rx="1.7" ry="0.95" transform="rotate(-2 538.9 349.5)" fill="#fff"/>
<ellipse cx="537.9" cy="359.3" rx="1.7" ry="0.95" transform="rotate(6 537.9 359.3)" fill="#fff"/>
<ellipse cx="536.2" cy="369.4" rx="1.7" ry="0.95" transform="rotate(14 536.2 369.4)" fill="#fff"/>
<ellipse cx="533.7" cy="379.6" rx="1.7" ry="0.95" transform="rotate(24 533.7 379.6)" fill="#fff"/>
<ellipse cx="530.5" cy="389.8" rx="1.7" ry="0.95" transform="rotate(35 530.5 389.8)" fill="#fff"/>
<ellipse cx="478.00" cy="379.60" rx="50.88" ry="89.51" transform="rotate(23 478.00 379.60)" fill="#fff" stroke="#141414" stroke-width="0" stroke="none"/>
<ellipse cx="478.30" cy="379.80" rx="49.39" ry="86.89" transform="rotate(23 478.30 379.80)" fill="none" stroke="#141414" stroke-width="2.7" />
<ellipse cx="478.70" cy="380.10" rx="42.69" ry="75.10" transform="rotate(23 478.70 380.10)" fill="#fff" stroke="#141414" stroke-width="4.4" />
<ellipse cx="477.00" cy="379.40" rx="40.40" ry="71.06" transform="rotate(23 477.00 379.40)" fill="none" stroke="#141414" stroke-width="2.5" />
<ellipse cx="480.50" cy="376.60" rx="28.10" ry="44.90" transform="rotate(13 480.50 376.60)" fill="#fff" stroke="#141414" stroke-width="3.3"/>
<ellipse cx="479.30" cy="377.00" rx="24.60" ry="40.80" transform="rotate(13 479.30 377.00)" fill="none" stroke="#141414" stroke-width="2.2"/>
<ellipse cx="479.60" cy="377.60" rx="22.30" ry="37.50" transform="rotate(13 479.60 377.60)" fill="#fff" stroke="#141414" stroke-width="2.9"/>
<ellipse cx="480.60" cy="379.80" rx="17.60" ry="28.70" transform="rotate(13 480.60 379.80)" fill="#fff" stroke="#141414" stroke-width="3.9"/>
<clipPath id="boreclip"><ellipse cx="480.6" cy="379.8" rx="17.6" ry="28.7" transform="rotate(13 480.6 379.8)"/></clipPath>
<g clip-path="url(#boreclip)"><ellipse cx="466.10" cy="375.80" rx="17.60" ry="28.70" transform="rotate(13 466.10 375.80)" fill="none" stroke="#141414" stroke-width="2.6"/></g>
<line x1="468.4" y1="373.5" x2="483.7" y2="382.9" stroke="#141414" stroke-width="1.9"/>
<line x1="490.3" y1="387.8" x2="506.8" y2="397.6" stroke="#141414" stroke-width="1.9"/>
<line x1="517.5" y1="403.6" x2="530.7" y2="413.2" stroke="#141414" stroke-width="1.9"/>
<g id="camcommon"><path d="M598.4,417.3 C597.3,417.8 594.0,418.9 592.0,420.0 C590.0,421.1 588.9,421.9 586.5,424.0 C584.1,426.1 580.2,429.6 577.7,432.8 C575.2,436.0 572.9,439.6 571.2,443.0 C569.5,446.4 568.2,449.8 567.4,453.0 C566.6,456.2 566.3,459.0 566.2,462.0 C566.1,465.0 566.2,468.0 566.6,471.0 C567.0,474.0 567.7,477.7 568.6,480.0 C569.5,482.3 570.6,483.4 572.2,484.8 C573.8,486.2 576.1,487.9 578.2,488.4 C580.3,488.9 583.2,488.2 584.8,487.9 C586.4,487.6 587.5,486.8 588.0,486.6" fill="none" stroke="#141414" stroke-width="5.43" stroke-linecap="round" stroke-linejoin="round"/>
<path d="M598.4,417.3 C599.7,417.7 604.1,418.2 606.3,419.5 C608.5,420.8 610.2,422.9 611.6,425.2 C613.0,427.5 614.0,430.3 614.7,433.1 C615.4,435.9 615.5,440.4 615.6,441.9" fill="none" stroke="#141414" stroke-width="3.07" stroke-linecap="round" stroke-linejoin="round"/>
<path d="M610.7,440.1 C610.3,438.8 609.4,434.4 608.1,432.2 C606.8,430.0 604.8,428.0 602.8,426.9 C600.8,425.8 598.6,424.8 596.0,425.5 C593.4,426.2 589.8,428.2 587.0,431.0 C584.2,433.8 581.3,439.1 579.4,442.4 C577.5,445.7 576.5,448.4 575.5,451.0 C574.5,453.6 573.7,455.7 573.2,458.0 C572.7,460.3 572.2,462.3 572.4,465.0 C572.6,467.7 573.2,471.7 574.2,474.1 C575.2,476.5 576.1,477.8 578.2,479.4 C580.3,481.0 585.3,483.2 586.7,484.0" fill="none" stroke="#141414" stroke-width="2.83" stroke-linecap="round" stroke-linejoin="round"/>
<path d="M606.0,439.6 C604.7,439.8 600.2,440.0 598.0,441.0 C595.8,442.0 594.1,443.7 592.6,445.5 C591.1,447.3 589.8,449.6 588.8,452.0 C587.8,454.4 587.1,456.9 586.4,459.6 C585.7,462.3 585.2,464.9 584.6,468.0 C584.0,471.1 583.1,476.8 582.8,478.5" fill="none" stroke="#141414" stroke-width="3.07" stroke-linecap="round" stroke-linejoin="round"/>
<path d="M606.5,442.6 C605.3,442.9 601.4,443.2 599.5,444.2 C597.6,445.2 596.3,446.7 595.0,448.5 C593.7,450.3 592.5,452.8 591.6,455.0 C590.7,457.2 590.1,459.5 589.4,462.0 C588.7,464.5 588.1,467.6 587.6,470.0 C587.1,472.4 586.8,475.4 586.6,476.5" fill="none" stroke="#141414" stroke-width="2.6" stroke-linecap="round" stroke-linejoin="round"/>
<path d="M591.4,459.0 L601.9,464.9" fill="none" stroke="#141414" stroke-width="2.83" stroke-linecap="round" stroke-linejoin="round"/>
<path d="M582.8,478.7 L596.6,489.9" fill="none" stroke="#141414" stroke-width="4.96" stroke-linecap="round" stroke-linejoin="round"/>
<path d="M601.9,464.9 L599.0,476.0 L596.6,487.5" fill="none" stroke="#141414" stroke-width="2.83" stroke-linecap="round" stroke-linejoin="round"/>
<path d="M596.6,489.9 L606.5,488.8" fill="none" stroke="#141414" stroke-width="3.07" stroke-linecap="round" stroke-linejoin="round"/>
<path d="M606.0,439.6 L610.1,442.9 L616.3,445.8 L624.2,449.9 L631.2,447.7 L647.0,457.0 L649.6,465.7 L652.0,473.0" fill="none" stroke="#141414" stroke-width="3.07" stroke-linecap="round" stroke-linejoin="round"/>
<path d="M616.3,448.2 C615.0,449.4 610.6,452.9 608.5,455.5 C606.4,458.1 604.9,460.8 603.6,463.5 C602.4,466.2 601.6,469.2 601.0,472.0 C600.4,474.8 599.8,477.4 599.9,480.0 C600.0,482.6 600.8,486.3 601.9,487.9 C603.0,489.4 605.7,489.1 606.5,489.3" fill="none" stroke="#141414" stroke-width="2.6" stroke-linecap="round" stroke-linejoin="round"/>
<path d="M624.2,451.2 C622.8,452.2 618.3,455.2 616.0,457.5 C613.7,459.8 611.9,462.2 610.4,465.0 C608.9,467.8 607.9,470.8 607.2,474.0 C606.5,477.2 606.3,481.0 606.3,484.0 C606.3,487.0 606.5,489.6 607.0,492.0 C607.5,494.4 608.7,497.3 609.0,498.4" fill="none" stroke="#141414" stroke-width="5.19" stroke-linecap="round" stroke-linejoin="round"/>
<path d="M609.0,498.4 L621.3,507.1" fill="none" stroke="#141414" stroke-width="4.72" stroke-linecap="round" stroke-linejoin="round"/>
<path d="M621.3,507.1 L632.7,503.6" fill="none" stroke="#141414" stroke-width="3.07" stroke-linecap="round" stroke-linejoin="round"/>
<path d="M640.8,457.8 C639.5,458.5 635.4,460.1 633.0,462.0 C630.6,463.9 628.4,466.3 626.5,469.0 C624.6,471.7 623.0,474.9 621.8,478.2 C620.5,481.5 619.5,485.9 619.0,489.0 C618.5,492.1 618.4,494.4 618.8,497.0 C619.2,499.6 620.9,503.2 621.3,504.5" fill="none" stroke="#141414" stroke-width="3.78" stroke-linecap="round" stroke-linejoin="round"/>
<path d="M645.2,464.0 C643.8,464.4 639.3,465.1 637.0,466.5 C634.7,467.9 632.9,470.2 631.2,472.5 C629.5,474.8 628.1,477.4 627.0,480.5 C625.9,483.6 624.7,487.9 624.8,491.3 C624.9,494.7 626.1,498.9 627.4,501.0 C628.7,503.1 631.8,503.2 632.7,503.6" fill="none" stroke="#141414" stroke-width="2.83" stroke-linecap="round" stroke-linejoin="round"/>
<path d="M647.9,470.1 C646.8,470.6 643.0,471.6 641.0,473.0 C639.0,474.4 637.5,476.3 636.0,478.5 C634.5,480.7 633.1,483.6 632.2,486.0 C631.4,488.4 630.7,490.6 630.9,493.0 C631.1,495.4 632.6,498.5 633.6,500.1 C634.6,501.7 636.4,502.3 637.0,502.7" fill="none" stroke="#141414" stroke-width="2.83" stroke-linecap="round" stroke-linejoin="round"/>
<path d="M652.0,475.5 C651.0,476.0 647.8,477.2 646.0,478.5 C644.2,479.8 642.7,481.5 641.5,483.4 C640.3,485.3 639.2,487.7 638.6,490.0 C638.0,492.3 637.9,493.8 637.8,497.0 C637.7,500.2 638.1,507.0 638.2,509.0" fill="none" stroke="#141414" stroke-width="2.83" stroke-linecap="round" stroke-linejoin="round"/>
<path d="M638.2,509.0 L645.8,515.9 L653.3,519.6" fill="none" stroke="#141414" stroke-width="3.07" stroke-linecap="round" stroke-linejoin="round"/>
<path d="M651.7,473.9 L657.0,472.1 L665.7,477.0 L674.5,483.1" fill="none" stroke="#141414" stroke-width="3.07" stroke-linecap="round" stroke-linejoin="round"/>
<path d="M652.6,473.9 C651.6,474.8 648.2,477.6 646.5,479.5 C644.8,481.4 643.8,482.8 642.6,485.0 C641.5,487.2 640.3,490.2 639.6,493.0 C638.9,495.8 638.4,499.3 638.3,502.0 C638.2,504.7 638.7,508.1 638.8,509.3" fill="none" stroke="#141414" stroke-width="3.07" stroke-linecap="round" stroke-linejoin="round"/>
<path d="M665.7,481.3 C664.7,482.2 661.3,484.6 659.5,486.5 C657.7,488.4 656.5,490.4 655.0,493.0 C653.5,495.6 651.8,499.2 650.8,502.4 C649.8,505.6 648.6,509.2 648.9,512.0 C649.2,514.8 652.1,517.8 652.8,519.0" fill="none" stroke="#141414" stroke-width="2.83" stroke-linecap="round" stroke-linejoin="round"/>
<path d="M673.6,484.9 C672.6,485.6 669.4,487.2 667.5,489.0 C665.6,490.8 664.0,493.1 662.5,495.5 C661.0,497.9 659.7,500.6 658.6,503.5 C657.5,506.4 656.4,509.9 656.0,513.0 C655.6,516.1 655.8,519.1 656.4,522.0 C657.0,524.9 658.1,528.3 659.5,530.5 C660.9,532.7 662.8,534.4 664.5,535.2 C666.2,536.1 667.7,536.0 669.5,535.6 C671.3,535.2 673.5,534.0 675.5,532.8 C677.5,531.6 680.5,529.2 681.5,528.5" fill="none" stroke="#141414" stroke-width="5.9" stroke-linecap="round" stroke-linejoin="round"/>
<path d="M674.5,484.9 L682.4,483.5 L689.4,484.9 L692.9,490.1 L694.5,497.1 L694.0,505.0" fill="none" stroke="#141414" stroke-width="3.07" stroke-linecap="round" stroke-linejoin="round"/>
<path d="M675.5,487.2 L689.4,487.6" fill="none" stroke="#141414" stroke-width="2.6" stroke-linecap="round" stroke-linejoin="round"/>
<path d="M679.2,496.1 C677.9,496.7 673.3,497.8 671.3,499.7 C669.2,501.6 667.8,504.8 666.9,507.6 C666.0,510.4 665.5,514.0 665.6,516.3 C665.8,518.6 667.4,520.7 667.8,521.6" fill="none" stroke="#141414" stroke-width="2.83" stroke-linecap="round" stroke-linejoin="round"/>
<path d="M667.8,521.6 L680.9,528.6" fill="none" stroke="#141414" stroke-width="2.83" stroke-linecap="round" stroke-linejoin="round"/>
<path d="M680.0,498.0 C679.0,498.6 675.4,499.5 673.9,501.4 C672.4,503.3 671.2,506.5 670.8,509.3 C670.4,512.1 671.2,516.6 671.3,518.1" fill="none" stroke="#141414" stroke-width="2.6" stroke-linecap="round" stroke-linejoin="round"/>
<path d="M671.3,518.1 L682.0,526.0" fill="none" stroke="#141414" stroke-width="2.6" stroke-linecap="round" stroke-linejoin="round"/>
<path d="M679.2,496.1 L684.4,498.8 L687.1,503.2 L691.5,505.2" fill="none" stroke="#141414" stroke-width="3.07" stroke-linecap="round" stroke-linejoin="round"/>
<ellipse cx="689.9" cy="519.0" rx="6.6" ry="12.0" transform="rotate(20 689.9 519.0)" fill="#fff" stroke="#141414" stroke-width="3.6"/></g>
<path d="M554.9,401.0 C553.6,401.3 549.8,401.6 547.4,402.9 C545.0,404.2 542.6,406.5 540.6,409.0 C538.6,411.5 537.0,414.6 535.6,417.8 C534.2,421.0 533.2,425.4 532.5,428.4 C531.8,431.4 531.4,433.6 531.4,436.0 C531.4,438.4 531.5,440.9 532.4,442.9 C533.3,444.9 534.8,446.4 536.9,448.2 C539.0,449.9 543.5,452.5 544.8,453.4" fill="none" stroke="#141414" stroke-width="3.3" stroke-linecap="round" stroke-linejoin="round"/>
<path d="M554.9,401.0 L568.0,408.5 L591.0,419.5" fill="none" stroke="#141414" stroke-width="2.83" stroke-linecap="round" stroke-linejoin="round"/>
<path d="M544.8,453.4 C545.0,454.0 545.0,455.4 546.1,457.0 C547.2,458.6 548.1,460.6 551.3,463.1 C554.5,465.6 563.0,470.4 565.4,471.9" fill="none" stroke="#141414" stroke-width="3.07" stroke-linecap="round" stroke-linejoin="round"/>
<path d="M563.6,409.5 C562.0,410.9 556.6,414.4 554.0,417.8 C551.4,421.2 549.3,425.7 547.8,430.1 C546.3,434.5 545.3,440.3 544.8,444.2 C544.3,448.1 544.8,451.9 544.8,453.4" fill="none" stroke="#141414" stroke-width="2.6" stroke-linecap="round" stroke-linejoin="round"/>
<path d="M565.8,413.9 C564.6,415.1 560.7,418.1 558.4,421.3 C556.1,424.5 553.8,429.0 552.2,432.8 C550.7,436.6 549.5,440.9 549.1,444.2 C548.7,447.5 549.2,450.3 549.6,452.6 C550.0,454.9 551.0,456.9 551.3,457.8" fill="none" stroke="#141414" stroke-width="2.6" stroke-linecap="round" stroke-linejoin="round"/>
<line x1="569.6" y1="412.8" x2="578.0" y2="417.7" stroke="#141414" stroke-width="6.2" stroke-linecap="round"/>
<polygon points="566.7,377.3 580.1,383.7 580.1,388.3 566.7,382.7" fill="#141414" stroke="#141414" stroke-width="2.4" stroke-linejoin="round"/>
<line x1="573.3" y1="388.5" x2="573.3" y2="408" stroke="#141414" stroke-width="2.5"/>
<line x1="608.4" y1="440.1" x2="608.4" y2="448.0" stroke="#111" stroke-width="2.2" stroke-linecap="round" stroke-linecap="butt"/>
<line x1="657.1" y1="476.2" x2="657.1" y2="479.8" stroke="#111" stroke-width="2.2" stroke-linecap="round" stroke-linecap="butt"/>
<use href="#camcommon" transform="translate(-413.3,66.2)"/>
<path d="M150.3,475.7 C148.7,477.1 143.3,480.6 140.7,484.0 C138.1,487.4 136.0,491.9 134.5,496.3 C133.0,500.7 132.0,506.5 131.5,510.4 C131.0,514.3 131.5,518.1 131.5,519.6" fill="none" stroke="#141414" stroke-width="2.83" stroke-linecap="round" stroke-linejoin="round"/>
<path d="M152.5,480.1 C151.3,481.3 147.4,484.4 145.1,487.5 C142.8,490.6 140.5,495.2 138.9,499.0 C137.4,502.8 136.2,507.1 135.8,510.4 C135.4,513.7 135.9,516.5 136.3,518.8 C136.7,521.1 137.7,523.1 138.0,524.0" fill="none" stroke="#141414" stroke-width="2.6" stroke-linecap="round" stroke-linejoin="round"/>
<path d="M150.3,475.7 L154.7,475.1 L177.7,485.7" fill="none" stroke="#141414" stroke-width="2.83" stroke-linecap="round" stroke-linejoin="round"/>
<path d="M131.5,519.6 C131.7,520.2 131.7,521.6 132.8,523.2 C133.9,524.8 134.8,526.8 138.0,529.3 C141.2,531.8 149.7,536.6 152.1,538.1" fill="none" stroke="#141414" stroke-width="3.07" stroke-linecap="round" stroke-linejoin="round"/>
<line x1="156.3" y1="479.0" x2="164.7" y2="483.9" stroke="#141414" stroke-width="6.0" stroke-linecap="round"/>
<path d="M90.5,442.5 C89.7,442.7 87.2,443.0 85.7,443.8 C84.2,444.6 82.9,445.7 81.5,447.5 C80.1,449.3 78.7,451.9 77.5,454.5 C76.3,457.1 75.0,460.4 74.2,463.0 C73.5,465.6 73.1,467.7 73.0,470.0 C72.9,472.3 72.9,474.6 73.8,477.0 C74.7,479.4 77.5,483.3 78.2,484.6" fill="none" stroke="#141414" stroke-width="3.3" stroke-linecap="round" stroke-linejoin="round"/>
<path d="M78.2,484.6 L131.0,519.0" fill="none" stroke="#141414" stroke-width="3.07" stroke-linecap="round" stroke-linejoin="round"/>
<path d="M127.5,459.3 L150.6,475.7" fill="none" stroke="#141414" stroke-width="3.07" stroke-linecap="round" stroke-linejoin="round"/>
<line x1="93.2" y1="442.9" x2="126.6" y2="464.4" stroke="#141414" stroke-width="8.0" stroke-linecap="round"/>
<line x1="93.4" y1="444.4" x2="125.8" y2="464.4" stroke="#fff" stroke-width="1.5" stroke-linecap="round"/>
<path d="M84.8,420.4 L90.8,416 L130.9,443.9 L130.9,454.9 L124.3,457.7 L84.8,432.4 Z" fill="#fff" stroke="#141414" stroke-width="2.8" stroke-linejoin="round"/>
<path d="M84.8,420.4 L124.3,447.3 L130.9,443.9 M124.3,447.3 L124.3,457.7" fill="none" stroke="#141414" stroke-width="2.8" stroke-linejoin="round" stroke-linecap="round"/>
<line x1="201.1" y1="493.8" x2="257.1" y2="467.4" stroke="#141414" stroke-width="2.6" stroke-linecap="round"/>
</svg>
</body></html>
